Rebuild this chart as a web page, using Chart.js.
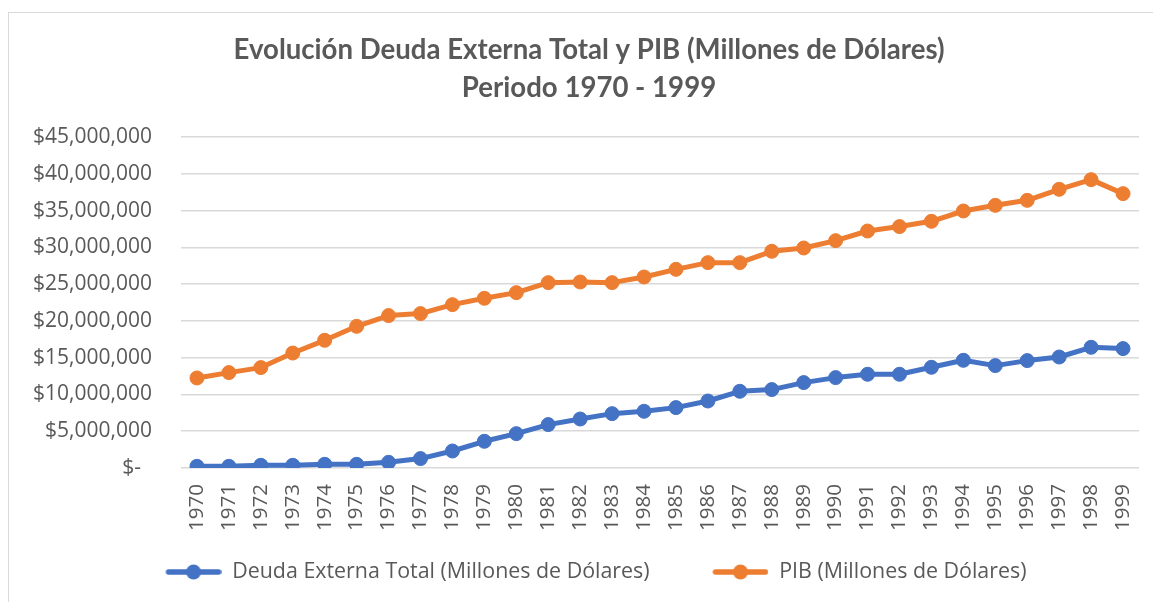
<!DOCTYPE html>
<html>
<head>
<meta charset="utf-8">
<script src="https://cdn.jsdelivr.net/npm/chart.js@4.4.1/dist/chart.umd.min.js"></script>
<style>
  html, body { margin: 0; padding: 0; background: #fff; }
  .frame { position: absolute; left: 8px; top: 12px; width: 1200px; height: 700px;
           border-top: 1.5px solid #d9d9d9; border-left: 1.5px solid #d9d9d9; }
  .wrap { position: absolute; left: 0; top: 0; width: 1153px; height: 602px; }
</style>
</head>
<body>
<div class="frame"></div>
<div class="wrap"><canvas id="chart" width="1153" height="602"></canvas></div>
<script>
const years = ['1970', '1971', '1972', '1973', '1974', '1975', '1976', '1977', '1978', '1979',
  '1980', '1981', '1982', '1983', '1984', '1985', '1986', '1987', '1988', '1989',
  '1990', '1991', '1992', '1993', '1994', '1995', '1996', '1997', '1998', '1999'];

// Deuda Externa Total (millones de dolares)
const deuda = [230000, 230000, 370000, 370000, 500000, 500000, 770000, 1280000, 2310000, 3630000,
  4670000, 5900000, 6660000, 7390000, 7710000, 8210000, 9110000, 10430000, 10660000, 11610000,
  12290000, 12740000, 12740000, 13690000, 14640000, 13920000, 14600000, 15090000, 16410000, 16230000];

// PIB (millones de dolares)
const pib = [12240000, 12970000, 13650000, 15630000, 17360000, 19260000, 20720000, 20990000, 22210000, 23070000,
  23840000, 25200000, 25290000, 25200000, 25970000, 27010000, 27920000, 27920000, 29460000, 29910000,
  30910000, 32220000, 32820000, 33540000, 34940000, 35710000, 36390000, 37890000, 39200000, 37300000];

const yTicksMax = 45000000;
const yStep = 5000000;

const BLUE = '#4472C4';
const ORANGE = '#ED7D31';
const TEXT = '#595959';

// legend marker: line with a dot, like excel. blank strip on the left
// pushes the items apart a bit (legend padding would also grow its height)
const MARK_GAP = 14;
function legendMarker(color) {
  const c = document.createElement('canvas');
  c.width = 56 + MARK_GAP; c.height = 18;
  const g = c.getContext('2d');
  g.strokeStyle = color;
  g.lineWidth = 5.5;
  g.lineCap = 'round';
  g.beginPath(); g.moveTo(MARK_GAP + 3, 9); g.lineTo(MARK_GAP + 53, 9); g.stroke();
  g.fillStyle = color;
  g.beginPath(); g.arc(MARK_GAP + 28, 9, 7.5, 0, Math.PI * 2); g.fill();
  return c;
}

const series = [
  { label: 'Deuda Externa Total (Millones de Dólares)', data: deuda, color: BLUE },
  { label: 'PIB (Millones de Dólares)', data: pib, color: ORANGE },
];

new Chart(document.getElementById('chart'), {
  type: 'line',
  data: {
    labels: years,
    datasets: series.map(s => ({
      label: s.label,
      data: s.data,
      yAxisID: 'y',
      borderColor: s.color,
      backgroundColor: s.color,
      borderWidth: 5,
      borderCapStyle: 'round',
      borderJoinStyle: 'round',
      pointRadius: 7,
      pointBorderWidth: 1,
      pointBackgroundColor: s.color,
      pointBorderColor: s.color,
      tension: 0,
      fill: false,
    })),
  },
  options: {
    responsive: false,
    animation: false,
    layout: { padding: { left: 31, right: 6, top: 0, bottom: 9.3 } },
    plugins: {
      title: {
        display: true,
        text: ['Evolución Deuda Externa Total y PIB (Millones de Dólares)', 'Periodo 1970 - 1999'],
        color: TEXT,
        font: { family: 'Lato', size: 27.6, weight: 'bold', lineHeight: 38 / 27.6 },
        padding: { top: 31, bottom: 30 },
      },
      legend: {
        position: 'bottom',
        labels: {
          color: TEXT,
          font: { family: 'Open Sans', size: 21.4 },
          usePointStyle: true,
          pointStyleWidth: 56 + MARK_GAP,
          padding: 10,
          generateLabels: chart => chart.data.datasets.map((ds, i) => ({
            // trailing spaces keep the excel-like gap between the two items
            text: i === 0 ? ds.label + '       ' : ds.label,
            fontColor: TEXT,
            pointStyle: legendMarker(ds.borderColor),
            datasetIndex: i,
            lineWidth: 0,
          })),
        },
      },
      tooltip: { enabled: false },
    },
    scales: {
      x: {
        offset: true,
        grid: { display: false, drawTicks: false },
        border: { display: false },
        ticks: {
          color: TEXT,
          font: { family: 'Open Sans', size: 20.5 },
          minRotation: 90,
          maxRotation: 90,
          padding: 16,
          autoSkip: false,
        },
        afterFit: axis => {
          axis.height = 83.3;
          // rotated labels fit inside the offset, no extra side room needed
          axis.paddingLeft = 0;
          axis.paddingRight = 0;
        },
      },
      y: {
        min: 0,
        max: yTicksMax,
        grid: { color: '#d9d9d9', lineWidth: 1.5, drawTicks: false },
        border: { display: false },
        ticks: {
          stepSize: yStep,
          color: TEXT,
          font: { family: 'Open Sans', size: 21 },
          padding: 29,
          callback: v => v === 0 ? '$-  ' : '$' + v.toLocaleString('en-US'),
        },
        afterFit: axis => { axis.width = 181 - 31; },
      },
      // empty right axis, only keeps a small margin at the right of the plot
      yRight: {
        position: 'right',
        grid: { display: false, drawTicks: false },
        border: { display: false },
        ticks: { display: false },
        afterFit: axis => { axis.width = 8; },
      },
    },
  },
});
</script>
</body>
</html>
